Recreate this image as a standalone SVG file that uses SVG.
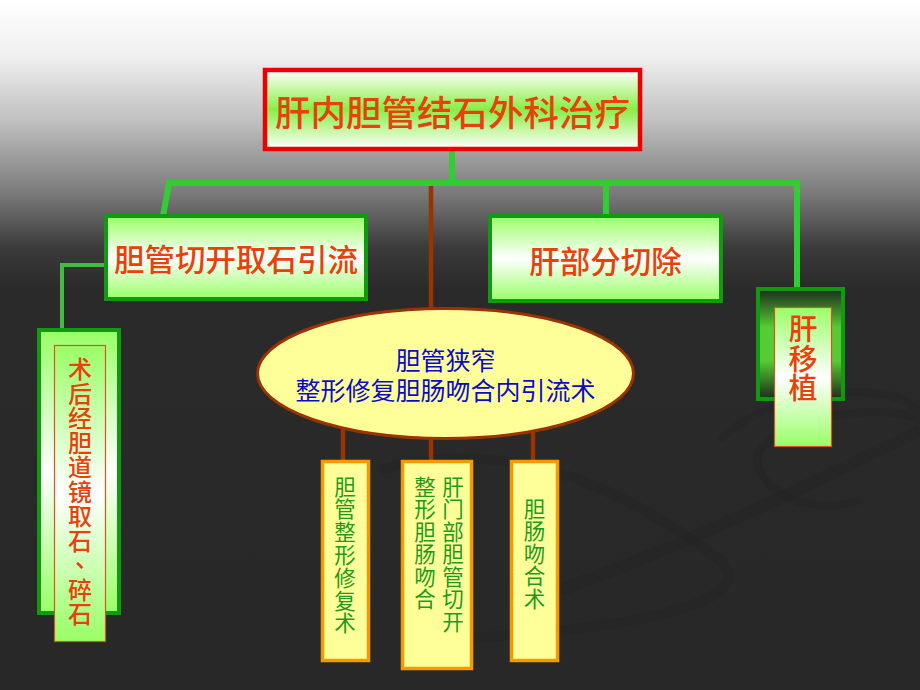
<svg xmlns="http://www.w3.org/2000/svg" width="920" height="690" viewBox="0 0 920 690">
<defs>
<linearGradient id="bgv" x1="0" y1="0" x2="0" y2="690" gradientUnits="userSpaceOnUse">
<stop offset="0" stop-color="#ffffff"/>
<stop offset="0.08" stop-color="#f0f0f0"/>
<stop offset="0.18" stop-color="#bdbdbd"/>
<stop offset="0.28" stop-color="#7a7a7a"/>
<stop offset="0.36" stop-color="#3a3a3a"/>
<stop offset="0.42" stop-color="#2a2a2a"/>
<stop offset="1" stop-color="#282828"/>
</linearGradient>
<linearGradient id="gwg" x1="0" y1="0" x2="0" y2="1">
<stop offset="0" stop-color="#ffffff"/>
<stop offset="0.5" stop-color="#88ee44"/>
<stop offset="1" stop-color="#ffffff"/>
</linearGradient>
<linearGradient id="gw" x1="0" y1="0" x2="0" y2="1">
<stop offset="0" stop-color="#99ff66"/>
<stop offset="0.5" stop-color="#ffffff"/>
<stop offset="1" stop-color="#99ff66"/>
</linearGradient>
<linearGradient id="dg" x1="0" y1="0" x2="0" y2="1">
<stop offset="0" stop-color="#1e2a1e"/>
<stop offset="0.35" stop-color="#55cc33"/>
<stop offset="0.65" stop-color="#55cc33"/>
<stop offset="1" stop-color="#1e2a1e"/>
</linearGradient>
<style>
.red{font-family:"Noto Sans CJK SC","Noto Sans",sans-serif;fill:#e8410c;font-weight:500;text-anchor:middle;dominant-baseline:central}
.blue{font-family:"Noto Sans CJK SC","Noto Sans",sans-serif;fill:#0a0acc;font-size:25px;text-anchor:middle;dominant-baseline:central}
.grn{font-family:"Noto Sans CJK SC","Noto Sans",sans-serif;fill:#1f9a1f;font-size:21.5px;text-anchor:middle;dominant-baseline:central}
.gbox{stroke:#109a10;stroke-width:4}
.ybox{fill:#ffff99;stroke:#f29a00;stroke-width:3.5}
.inner{stroke:#e05020;stroke-width:1.2;fill:url(#gw)}
.gl{stroke:#33cc33;stroke-width:6;fill:none}
.gl2{stroke:#44bb44;stroke-width:4;fill:none}
.br{stroke:#993300;stroke-width:4.5;fill:none}
</style>
</defs>
<rect x="0" y="0" width="920" height="690" fill="url(#bgv)"/>
<g id="swirl" fill="none" stroke="#222222" stroke-opacity="0.4">
<path d="M380 470 C 520 430, 640 500, 720 560 C 760 600, 650 630, 430 640" stroke-width="10"/>
<path d="M720 440 C 780 380, 920 380, 920 420 C 880 400, 780 420, 760 450 C 745 480, 800 520, 860 500" stroke-width="8"/>
<path d="M560 590 C 700 540, 840 470, 920 430" stroke-width="12"/>
</g>
<g id="connectors">
<path class="gl" d="M452 150 V183 M166 183 H800 M169 183 L163 216 M606 183 V216 M797 183 V288"/>
<path class="gl2" d="M104 265 H62 V329"/>
<path class="br" d="M431 186 V312 M343 420 V462 M431 420 V462 M533 420 V462"/>
</g>
<g id="root">
<rect x="265" y="70" width="375" height="79" fill="url(#gwg)" stroke="#ee0000" stroke-width="4.5"/>
<text class="red" x="452.5" y="110" font-size="35.5">肝内胆管结石外科治疗</text>
</g>
<g id="n1">
<rect class="gbox" x="106" y="216" width="260" height="83" fill="url(#gw)"/>
<text class="red" x="236" y="257.5" font-size="30.5">胆管切开取石引流</text>
</g>
<g id="n2">
<rect class="gbox" x="490" y="216" width="231" height="85" fill="url(#gw)"/>
<text class="red" x="605.5" y="260" font-size="30.5">肝部分切除</text>
</g>
<g id="n3">
<rect class="gbox" x="39" y="330" width="80" height="283" fill="url(#gw)"/>
<rect class="inner" x="54.5" y="345.5" width="51" height="296"/>
<text class="red" font-size="24"><tspan x="80" y="367">术</tspan><tspan x="80" y="391.5">后</tspan><tspan x="80" y="416">经</tspan><tspan x="80" y="440.5">胆</tspan><tspan x="80" y="465">道</tspan><tspan x="80" y="489.5">镜</tspan><tspan x="80" y="514">取</tspan><tspan x="80" y="538.5">石</tspan><tspan x="87" y="556">、</tspan><tspan x="80" y="587.5">碎</tspan><tspan x="80" y="612">石</tspan></text>
</g>
<g id="n4">
<rect class="gbox" x="758" y="289" width="85" height="110" fill="url(#dg)"/>
<rect class="inner" x="774.5" y="307.5" width="57" height="139"/>
<text class="red" font-size="29"><tspan x="803" y="327">肝</tspan><tspan x="803" y="356.5">移</tspan><tspan x="803" y="386">植</tspan></text>
</g>
<g id="n5">
<ellipse cx="445.5" cy="373.5" rx="188" ry="65" fill="#ffff99" stroke="#993300" stroke-width="3"/>
<text class="blue" x="445.5" y="358.5">胆管狭窄</text>
<text class="blue" x="445.5" y="389">整形修复胆肠吻合内引流术</text>
</g>
<g id="n6">
<rect class="ybox" x="322.5" y="461.5" width="46" height="199"/>
<text class="grn"><tspan x="345" y="484.5">胆</tspan><tspan x="345" y="507.3">管</tspan><tspan x="345" y="530.1">整</tspan><tspan x="345" y="552.9">形</tspan><tspan x="345" y="575.7">修</tspan><tspan x="345" y="598.5">复</tspan><tspan x="345" y="621.3">术</tspan></text>
</g>
<g id="n7">
<rect class="ybox" x="402.5" y="461.5" width="69" height="207"/>
<text class="grn"><tspan x="453" y="484.5">肝</tspan><tspan x="453" y="507">门</tspan><tspan x="453" y="529.5">部</tspan><tspan x="453" y="552">胆</tspan><tspan x="453" y="574.5">管</tspan><tspan x="453" y="597">切</tspan><tspan x="453" y="619.5">开</tspan></text>
<text class="grn"><tspan x="425" y="484.5">整</tspan><tspan x="425" y="507">形</tspan><tspan x="425" y="529.5">胆</tspan><tspan x="425" y="552">肠</tspan><tspan x="425" y="574.5">吻</tspan><tspan x="425" y="597">合</tspan></text>
</g>
<g id="n8">
<rect class="ybox" x="511.5" y="461.5" width="46" height="199"/>
<text class="grn"><tspan x="534.5" y="506.5">胆</tspan><tspan x="534.5" y="529">肠</tspan><tspan x="534.5" y="551.5">吻</tspan><tspan x="534.5" y="574">合</tspan><tspan x="534.5" y="596.5">术</tspan></text>
</g>
</svg>
